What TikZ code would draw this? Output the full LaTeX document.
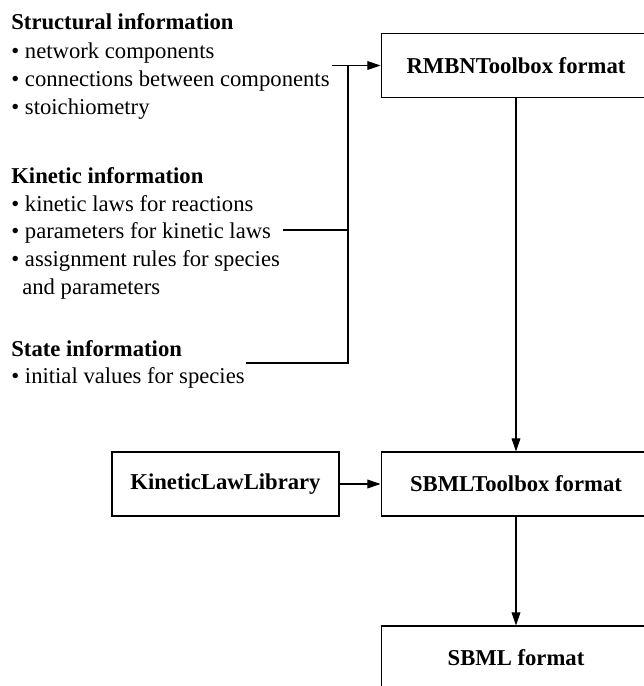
\documentclass[tikz,border=0pt]{standalone}
\usepackage{fontspec}
\setmainfont{Liberation Serif}
\usetikzlibrary{arrows.meta}

\tikzset{
  info/.style={anchor=base west, inner sep=0pt, font=\fontsize{12.9}{15.5}\selectfont},
  head/.style={info, font=\fontsize{12.9}{15.5}\selectfont\bfseries},
  fmt/.style={draw, line width=0.6pt, minimum width=5.4cm, minimum height=1.28cm, inner sep=0pt, font=\fontsize{12.9}{15.5}\selectfont\bfseries},
  conn/.style={line width=0.6pt, -{Triangle[length=7.5pt,width=5pt]}}
}

\begin{document}
\begin{tikzpicture}[x=0.02cm,y=-0.02cm]

    \useasboundingbox (0,0) rectangle (643,686);

    % text on the left
    \node[head] (struct) at (11,29.5) {Structural information};
    \node[info] (comp) at (11,58.5) {\textbullet{} network components};
    \node[info] (conn) at (11,86.5) {\textbullet{} connections between components};
    \node[info] (stoich) at (11,114) {\textbullet{} stoichiometry};

    \node[head] (kinetic) at (11,183) {Kinetic information};
    \node[info] (laws) at (11,211) {\textbullet{} kinetic laws for reactions};
    \node[info] (params) at (11,238.5) {\textbullet{} parameters for kinetic laws};
    \node[info] (rules) at (11,266.5) {\textbullet{} assignment rules for species};
    \node[info] (rules2) at (22,294) {and parameters};

    \node[head] (state) at (11,356) {State information};
    \node[info] (init) at (11,383.5) {\textbullet{} initial values for species};

    % boxes
    \node[fmt] (rmbn) at (516,65.5) {RMBNToolbox format};
    \node[fmt] (sbmltb) at (516,484) {SBMLToolbox format};
    \node[fmt, minimum width=4.54cm] (kll) at (225.5,484) {KineticLawLibrary};
    \node[fmt] (sbml) at (516,658) {SBML format};

    % bracket
    \coordinate (b1) at (332,65.5);
    \coordinate (b2) at (283,230);
    \coordinate (b3) at (246,363);
    \coordinate (j) at (348,65.5);
    \draw[line width=0.6pt] (b2) -- (b2 -| j);
    \draw[line width=0.6pt] (b3) -- (b3 -| j) -- (j);
    \draw[conn] (b1) -- (rmbn.west);

    \draw[conn] (rmbn) -- (sbmltb);
    \draw[conn] (kll) -- (sbmltb);
    \draw[conn] (sbmltb) -- (sbml);

\end{tikzpicture}
\end{document}
